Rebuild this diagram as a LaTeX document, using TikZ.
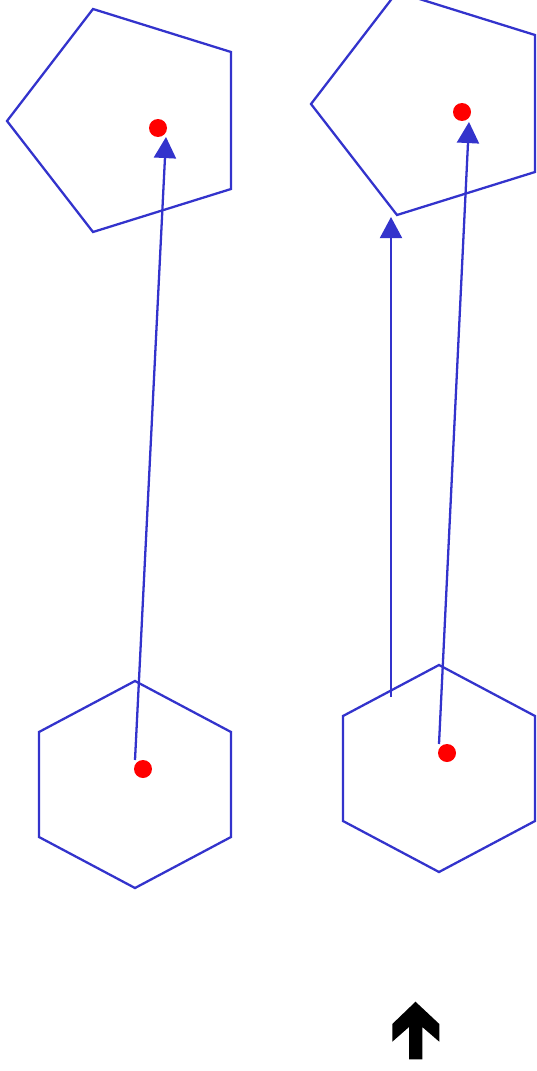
\documentclass[tikz,border=0pt]{standalone}
\usepackage{xcolor}
\usetikzlibrary{arrows.meta}
\definecolor{shapeblue}{RGB}{51,51,204}

\begin{document}
\begin{tikzpicture}[x=0.02cm, y=-0.02cm,
    outline/.style={draw=shapeblue, line width=1.3pt, line join=miter},
    move/.style={draw=shapeblue, line width=1.3pt, -{Triangle[length=12pt,width=12.5pt]}},
    dot/.style={fill=red}]

        \useasboundingbox (0,0) rectangle (537,1071);
        \clip (0,0) rectangle (537,1071);

        % pentagons
        \draw[outline] (93,9) -- (231,52) -- (231,189) -- (93,232) -- (7,121) -- cycle;
        \draw[outline] (397,-8) -- (535,35) -- (535,172) -- (397,215) -- (311,104) -- cycle;

        % hexagons
        \draw[outline] (135,681) -- (231,732) -- (231,837) -- (135,888) -- (39,837) -- (39,732) -- cycle;
        \draw[outline] (439,665) -- (535,716) -- (535,821) -- (439,872) -- (343,821) -- (343,716) -- cycle;

        % centres
        \coordinate (penta1) at (158,128);
        \coordinate (penta2) at (462,112);
        \coordinate (hexa1) at (143,769);
        \coordinate (hexa2) at (447,753);

        % arrow ends
        \coordinate (a1s) at (135,760);
        \coordinate (a1e) at (166,137);
        \coordinate (a2s) at (391,697);
        \coordinate (a2e) at (391,217);
        \coordinate (a3s) at (439,744);
        \coordinate (a3e) at (469,122);

        \draw[move] (a1s) -- (a1e);
        \draw[move] (a2s) -- (a2e);
        \draw[move] (a3s) -- (a3e);

        \fill[dot] (penta1) circle (0.18cm);
        \fill[dot] (penta2) circle (0.18cm);
        \fill[dot] (hexa1) circle (0.18cm);
        \fill[dot] (hexa2) circle (0.18cm);

        % up arrow
        \fill[black] (415.5,1001.7) -- (439.3,1024) -- (439.3,1041.7) -- (422.3,1027) -- (422.3,1059.3)
            -- (409,1059.3) -- (409,1027) -- (392.3,1041.7) -- (392.3,1024) -- cycle;
    \end{tikzpicture}
\end{document}
